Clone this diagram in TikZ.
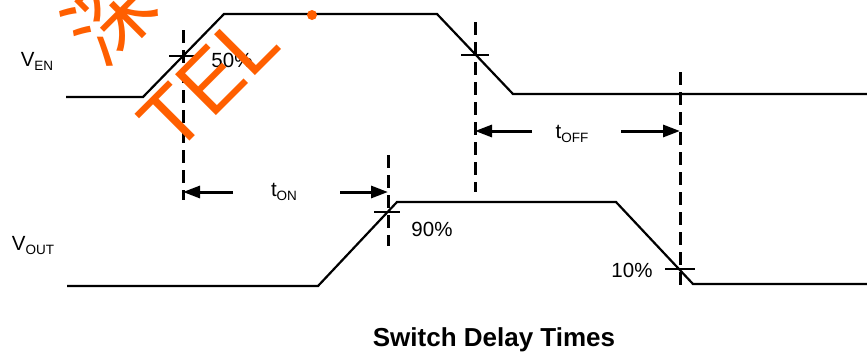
\documentclass[tikz,border=0pt]{standalone}
\usepackage{fontspec}
\setmainfont{Liberation Sans}
\newfontfamily\cjkfont{Noto Sans CJK SC}
\usetikzlibrary{arrows.meta}
\definecolor{wm}{RGB}{255,95,0}
\begin{document}
\begin{tikzpicture}[x=1pt,y=-1pt,
  wave/.style={line width=2.2pt,line join=miter},
  tickmark/.style={line width=2.2pt},
  guide/.style={line width=3pt,dash pattern=on 13pt off 7pt},
  dim/.style={line width=3pt,-{Triangle[length=17pt,width=12pt]}},
  lbl/.style={font=\fontsize{20.5}{20.5}\selectfont,inner sep=0pt}]
\useasboundingbox (0,0) rectangle (867,354);
% waveform corners
\coordinate (e0) at (66,97);  \coordinate (e1) at (143,97);
\coordinate (e2) at (224,14); \coordinate (e3) at (437,14);
\coordinate (e4) at (513,94); \coordinate (e5) at (867,94);
\coordinate (o0) at (67,286); \coordinate (o1) at (318,286);
\coordinate (o2) at (397,202);\coordinate (o3) at (616,202);
\coordinate (o4) at (693,284);\coordinate (o5) at (867,284);
\draw[wave] (e0)--(e1)--(e2)--(e3)--(e4)--(e5);
\draw[wave] (o0)--(o1)--(o2)--(o3)--(o4)--(o5);
% guide lines
\coordinate (g1t) at (183,30);  \coordinate (g1b) at (183,200);
\coordinate (g2t) at (475,22);  \coordinate (g2b) at (475,192);
\coordinate (g3t) at (388,155); \coordinate (g3b) at (388,246);
\coordinate (g4t) at (680,72);  \coordinate (g4b) at (680,286);
\draw[guide] (g1t)--(g1b);
\draw[guide] (g2t)--(g2b);
\draw[guide] (g3t)--(g3b);
\draw[guide] (g4t)--(g4b);
% crossing ticks
\coordinate (c1) at (183,56);  \coordinate (c2) at (475,55);
\coordinate (c3) at (388,212); \coordinate (c4) at (680,269);
\draw[tickmark] ([xshift=-14pt]c1)--([xshift=14pt]c1);
\draw[tickmark] ([xshift=-14pt]c2)--([xshift=14pt]c2);
\draw[tickmark] ([xshift=-14pt]c3)--([xshift=12pt]c3);
\draw[tickmark] ([xshift=-15pt]c4)--([xshift=15pt]c4);
% labels
\node[lbl] (ven) at (37,61) {V\raisebox{-4pt}{\fontsize{13.5}{13.5}\selectfont EN}};
\node[lbl] (vout) at (33,246) {V\raisebox{-4pt}{\fontsize{13.5}{13.5}\selectfont OUT}};
\node[lbl] (p50) at (232,60) {50\%};
\node[lbl] (p90) at (432,229) {90\%};
\node[lbl] (p10) at (632,270) {10\%};
\node[lbl] (ton) at (284,192) {t\raisebox{-4pt}{\fontsize{13.5}{13.5}\selectfont ON}};
\node[lbl] (toff) at (572,134) {t\raisebox{-4pt}{\fontsize{13.5}{13.5}\selectfont OFF}};
\node[inner sep=0pt,font=\fontsize{26}{26}\selectfont\bfseries] (title) at (494,340) {Switch Delay Times};
% dimension arrows
\coordinate (a1s) at (233,192); \coordinate (a1e) at (183,192);
\coordinate (a2s) at (340,192); \coordinate (a2e) at (388,192);
\coordinate (a3s) at (532,131); \coordinate (a3e) at (475,131);
\coordinate (a4s) at (621,131); \coordinate (a4e) at (680,131);
\draw[dim] (a1s)--(a1e);
\draw[dim] (a2s)--(a2e);
\draw[dim] (a3s)--(a3e);
\draw[dim] (a4s)--(a4e);
% watermark
\node[text=wm,inner sep=0pt,rotate=45,font=\fontsize{84}{84}\selectfont] (wmtel) at (209,82) {TEL};
\node[text=wm,inner sep=0pt,rotate=45,font=\cjkfont\fontsize{86}{86}\selectfont] (wmcjk) at (110,16) {深};
\fill[wm] (312,15) circle (5pt);
\end{tikzpicture}
\end{document}
